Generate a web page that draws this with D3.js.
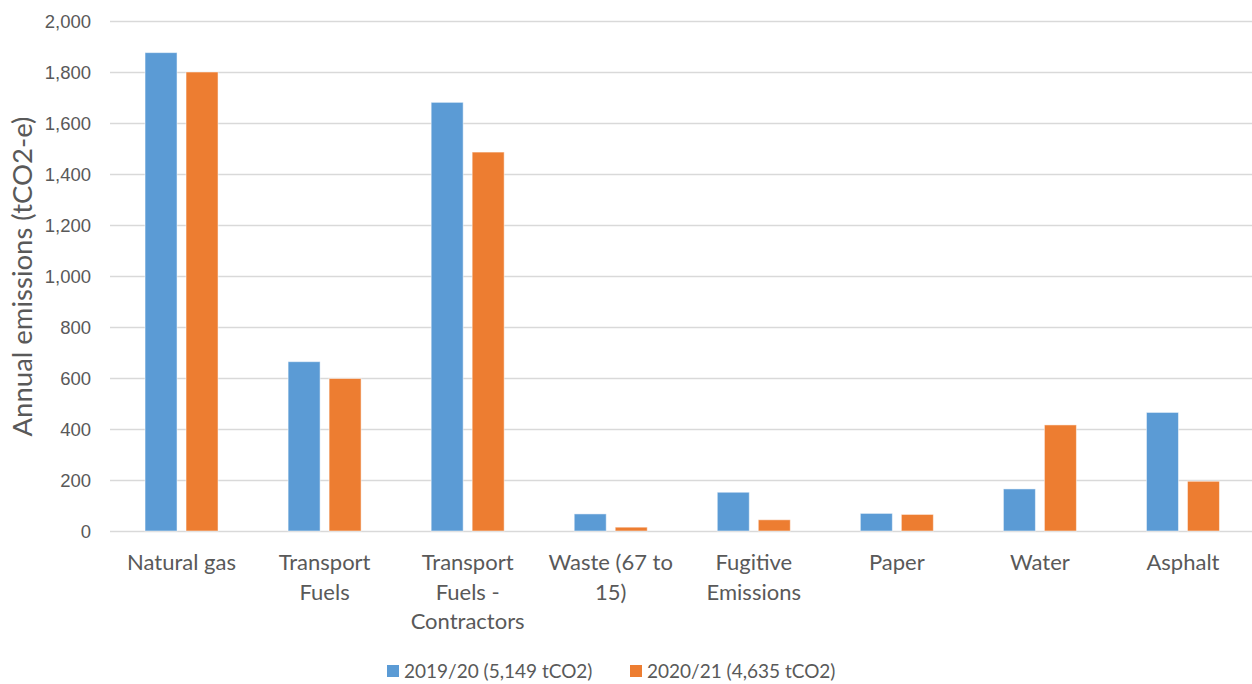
<!DOCTYPE html>
<html>
<head>
<meta charset="utf-8">
<script src="https://cdn.jsdelivr.net/npm/d3@7/dist/d3.min.js"></script>
<style>
  html, body { margin: 0; padding: 0; background: #fff; }
  svg { display: block; font-family: Lato, "Liberation Sans", sans-serif; }
</style>
</head>
<body>
<svg id="chart" width="1252" height="684"></svg>
<script>
// Emission sources (labels are wrapped on "|")
const categories = [
  "Natural gas",
  "Transport|Fuels",
  "Transport|Fuels -|Contractors",
  "Waste (67 to|15)",
  "Fugitive|Emissions",
  "Paper",
  "Water",
  "Asphalt"
];
const seriesNames = ["2019/20 (5,149 tCO2)", "2020/21 (4,635 tCO2)"];
const values2019 = [1876, 664, 1681, 67, 152, 69, 165, 465];
const values2020 = [1800, 598, 1486, 15, 44, 65, 416, 195];
const yTicks = [0, 200, 400, 600, 800, 1000, 1200, 1400, 1600, 1800, 2000];
const colors = ["#5b9bd5", "#ed7d31"];

const svg = d3.select("#chart");
const plot = { left: 110, right: 1254.5, top: 21, bottom: 531 };
const textColor = "#595959";

const y = d3.scaleLinear().domain([0, 2000]).range([plot.bottom, plot.top]);
const x0 = d3.scaleBand().domain(d3.range(categories.length))
  .range([plot.left, plot.right]).paddingInner(0).paddingOuter(0);
const groupW = 73;
const x1 = d3.scaleBand().domain([0, 1])
  .range([(x0.bandwidth() - groupW) / 2, (x0.bandwidth() + groupW) / 2])
  .paddingInner(9 / 41).paddingOuter(0);

// Horizontal gridlines and value axis labels
const yAxis = d3.axisLeft(y).tickValues(yTicks)
  .tickSize(0).tickPadding(0)
  .tickFormat(d3.format(","));
const gy = svg.append("g").attr("transform", `translate(${plot.left},0)`).call(yAxis);
gy.select(".domain").remove();
gy.selectAll(".tick line")
  .attr("x2", plot.right - plot.left)
  .attr("stroke", "#d9d9d9").attr("stroke-width", 1.5);
gy.selectAll(".tick text")
  .attr("x", -19).attr("dy", "0.33em")
  .attr("fill", textColor).style("font-size", "18.5px");

// Bars
const rows = categories.map((c, i) => [values2019[i], values2020[i]]);
const groups = svg.append("g").selectAll("g").data(rows).join("g")
  .attr("transform", (d, i) => `translate(${x0(i)},0)`);
groups.selectAll("rect").data(d => d.map((v, k) => ({ v, k }))).join("rect")
  .attr("x", d => x1(d.k))
  .attr("width", x1.bandwidth())
  .attr("y", d => y(d.v))
  .attr("height", d => y(0) - y(d.v))
  .attr("fill", d => colors[d.k])
  .attr("stroke", "#ffffff").attr("stroke-opacity", 0.5).attr("stroke-width", 1);

// Category labels
const xAxis = svg.append("g");
categories.forEach((c, i) => {
  const cx = x0(i) + x0.bandwidth() / 2;
  const t = xAxis.append("text")
    .attr("x", cx)
    .attr("y", 570)
    .attr("text-anchor", "middle")
    .attr("fill", textColor)
    .style("font-size", "22px");
  c.split("|").forEach((line, j) => {
    t.append("tspan").attr("x", cx).attr("y", 570 + j * 29.5).text(line);
  });
});

// Value axis title
svg.append("text")
  .attr("transform", `translate(32,276.5) rotate(-90)`)
  .attr("text-anchor", "middle")
  .attr("fill", textColor)
  .style("font-size", "27.5px")
  .text("Annual emissions (tCO2-e)");

// Legend
const legendItems = [{ x: 387, name: seriesNames[0], c: colors[0] }, { x: 630, name: seriesNames[1], c: colors[1] }];
const lg = svg.append("g");
legendItems.forEach(it => {
  lg.append("rect").attr("x", it.x).attr("y", 665).attr("width", 12).attr("height", 12).attr("fill", it.c);
  lg.append("text").attr("x", it.x + 17).attr("y", 678)
    .attr("fill", textColor).style("font-size", "19px").text(it.name);
});
</script>
</body>
</html>
